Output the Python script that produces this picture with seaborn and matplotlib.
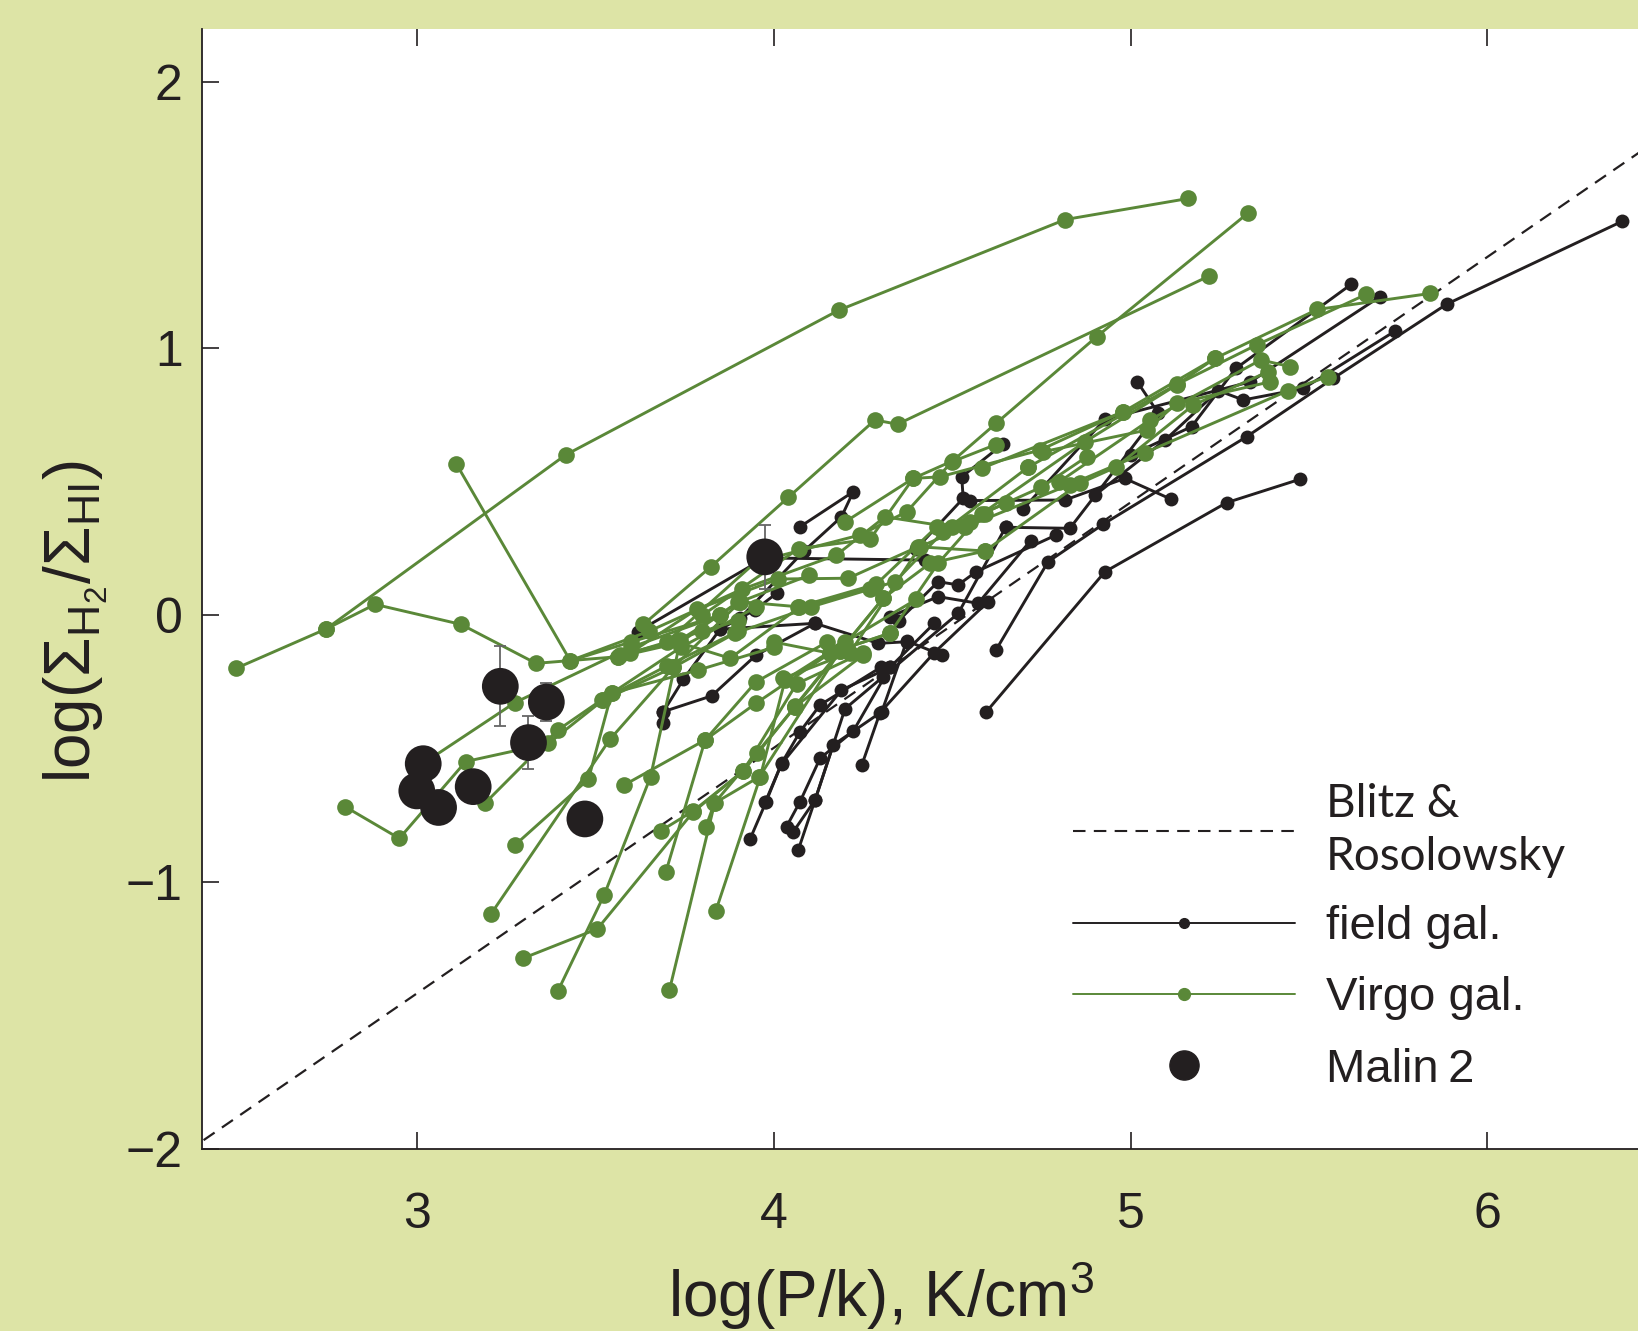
import pandas as pd
import matplotlib
matplotlib.use("Agg")
import matplotlib.pyplot as plt
from matplotlib.lines import Line2D
import seaborn as sns

# radial profiles, one list per galaxy: log(P/k) and log(Sigma_H2/Sigma_HI)
field_logp = [
    [3.619, 3.975, 4.425],
    [3.691, 3.691, 3.747, 3.850, 3.947, 4.008],
    [3.691, 3.826, 3.950, 4.116],
    [4.074, 4.223, 4.190, 4.085, 3.906],
    [3.934, 3.979, 4.022, 4.074, 4.130, 4.300],
    [4.036, 4.074, 4.130, 4.223, 4.326, 4.450],
    [4.055, 4.116, 4.167, 4.303, 4.373, 4.471],
    [4.069, 4.116, 4.200, 4.307, 4.517, 4.650],
    [4.247, 4.298, 4.450, 4.600],
    [4.623, 4.769, 4.924, 5.325, 5.568, 5.886, 6.377],
    [4.595, 4.928, 5.269, 5.475],
    [3.976, 4.022, 4.190, 4.326],
    [4.326, 4.461, 4.573, 4.720],
    [4.350, 4.461, 4.517, 4.567, 4.790],
    [4.400, 4.531, 4.527, 4.642],
    [4.650, 4.830, 5.078, 5.019],
    [4.550, 4.816, 4.984, 5.112],
    [4.900, 5.097, 5.246, 5.316, 5.484, 5.741],
    [5.000, 5.171, 5.295, 5.619],
    [4.700, 4.928, 5.336, 5.699],
    [3.850, 4.116, 4.293, 4.373],
]
field_ratio = [
    [-0.061, 0.215, 0.207],
    [-0.405, -0.361, -0.240, -0.052, 0.020, 0.082],
    [-0.361, -0.302, -0.150, -0.030],
    [0.332, 0.463, 0.369, 0.241, -0.011],
    [-0.838, -0.698, -0.555, -0.436, -0.336, -0.195],
    [-0.792, -0.698, -0.536, -0.434, -0.195, -0.030],
    [-0.811, -0.692, -0.486, -0.361, -0.096, -0.149],
    [-0.879, -0.692, -0.350, -0.230, 0.007, 0.330],
    [-0.561, -0.365, -0.140, 0.050],
    [-0.130, 0.201, 0.342, 0.669, 0.888, 1.166, 1.476],
    [-0.363, 0.163, 0.422, 0.510],
    [-0.701, -0.557, -0.280, -0.195],
    [-0.005, 0.070, 0.045, 0.280],
    [-0.020, 0.126, 0.114, 0.163, 0.300],
    [0.250, 0.438, 0.519, 0.641],
    [0.330, 0.326, 0.757, 0.875],
    [0.430, 0.432, 0.513, 0.436],
    [0.450, 0.657, 0.842, 0.807, 0.850, 1.065],
    [0.600, 0.707, 0.925, 1.241],
    [0.400, 0.734, 0.875, 1.194],
    [-0.052, -0.030, -0.105, -0.099],
]

virgo_logp = [
    [2.493, 2.746, 3.417, 4.182, 4.817, 5.162],
    [2.746, 2.883, 3.124, 3.334, 3.565, 3.800, 3.900],
    [3.111, 3.430, 3.600, 3.850],
    [3.018, 3.275, 3.600, 3.850],
    [2.799, 2.951, 3.137, 3.369, 3.546, 3.740, 3.950],
    [3.191, 3.395, 3.518, 3.700, 3.900],
    [3.208, 3.541, 3.719, 3.906, 4.100],
    [3.275, 3.481, 3.546, 3.789, 4.000],
    [3.298, 3.506, 3.775, 3.915, 4.060, 4.250],
    [3.396, 3.525, 3.655, 3.737, 3.900],
    [3.708, 3.835, 3.952, 4.060, 4.190],
    [3.838, 3.962, 4.032, 4.200, 4.400],
    [3.698, 3.808, 3.950, 4.150],
    [3.683, 3.775, 3.915, 4.064, 4.250],
    [3.581, 3.808, 3.950, 4.158, 4.326],
    [3.810, 3.834, 3.960, 4.186, 4.307],
    [3.635, 3.824, 4.041, 4.284, 4.347, 5.221],
    [4.200, 4.391, 4.502, 4.623, 4.905, 5.328],
    [3.597, 3.784, 4.013, 4.209, 4.405, 4.592],
    [3.569, 3.737, 3.906, 4.069, 4.288, 4.457, 4.592],
    [3.430, 3.650, 3.910, 4.176, 4.312, 4.500, 4.650],
    [3.523, 3.719, 3.892, 4.106, 4.340, 4.475, 4.713],
    [3.700, 3.950, 4.242, 4.373, 4.499, 4.623],
    [3.800, 4.070, 4.270, 4.391, 4.466, 4.746, 4.980],
    [4.000, 4.158, 4.326, 4.461, 4.583, 4.750, 4.877],
    [4.027, 4.214, 4.410, 4.536, 4.830, 5.040, 5.442, 5.552],
    [4.060, 4.186, 4.307, 4.438, 4.592, 4.858, 4.959, 5.176, 5.386],
    [4.583, 4.980, 5.237, 5.523, 5.839],
    [4.713, 5.131, 5.353, 5.661],
    [4.800, 5.054, 5.365, 5.447],
    [4.755, 5.045, 5.129, 5.391],
    [4.550, 4.872, 5.129, 5.236],
    [3.565, 3.737, 3.878, 4.072, 4.270],
]
virgo_ratio = [
    [-0.199, -0.051, 0.601, 1.143, 1.483, 1.562],
    [-0.051, 0.041, -0.034, -0.180, -0.155, -0.060, -0.020],
    [0.567, -0.170, -0.100, 0.000],
    [-0.555, -0.327, -0.120, 0.000],
    [-0.717, -0.836, -0.548, -0.480, -0.292, -0.120, 0.030],
    [-0.704, -0.430, -0.317, -0.190, -0.060],
    [-1.119, -0.465, -0.195, 0.051, 0.150],
    [-0.861, -0.614, -0.292, -0.205, -0.120],
    [-1.285, -1.175, -0.736, -0.583, -0.342, -0.150],
    [-1.406, -1.048, -0.605, -0.103, 0.050],
    [-1.404, -0.702, -0.517, -0.342, -0.130],
    [-1.107, -0.607, -0.242, -0.100, 0.060],
    [-0.961, -0.467, -0.250, -0.100],
    [-0.808, -0.733, -0.583, -0.257, -0.140],
    [-0.636, -0.467, -0.330, -0.142, -0.067],
    [-0.792, -0.704, -0.605, -0.133, 0.064],
    [-0.034, 0.182, 0.442, 0.732, 0.716, 1.272],
    [0.350, 0.513, 0.579, 0.719, 1.044, 1.506],
    [-0.142, 0.022, 0.136, 0.139, 0.257, 0.241],
    [-0.149, -0.093, 0.051, 0.032, 0.117, 0.332, 0.380],
    [-0.170, -0.060, 0.097, 0.226, 0.369, 0.330, 0.420],
    [-0.317, -0.195, -0.067, 0.032, 0.126, 0.313, 0.555],
    [-0.100, 0.200, 0.301, 0.388, 0.575, 0.640],
    [0.000, 0.250, 0.285, 0.513, 0.519, 0.619, 0.763],
    [-0.100, -0.142, -0.067, 0.195, 0.380, 0.480, 0.594],
    [-0.236, -0.140, 0.257, 0.330, 0.490, 0.609, 0.842, 0.894],
    [-0.340, -0.133, 0.064, 0.195, 0.241, 0.495, 0.555, 0.788, 0.913],
    [0.551, 0.763, 0.963, 1.146, 1.206],
    [0.555, 0.866, 1.013, 1.203],
    [0.500, 0.732, 0.957, 0.932],
    [0.613, 0.694, 0.794, 0.875],
    [0.350, 0.650, 0.863, 0.963],
    [-0.155, -0.103, -0.161, 0.030, 0.100],
]

malin_logp = [3.000, 3.018, 3.061, 3.158, 3.234, 3.313, 3.363, 3.471, 3.975]
malin_ratio = [-0.658, -0.556, -0.720, -0.642, -0.266, -0.477, -0.325, -0.763, 0.219]
malin_err = [0.0, 0.0, 0.0, 0.0, 0.15, 0.10, 0.07, 0.03, 0.12]

# Blitz & Rosolowsky relation, end points
br_logp = [2.3, 6.5]
br_ratio = [-2.061, 1.803]

BG = "#dde4a6"
GREEN = "#5a8838"
BLACK = "#231f20"


def to_frame(xs, ys, tag):
    rows = []
    for i, (gx, gy) in enumerate(zip(xs, ys)):
        for x, y in zip(gx, gy):
            rows.append((f"{tag}{i}", x, y))
    return pd.DataFrame(rows, columns=["gal", "logp", "ratio"])


field = to_frame(field_logp, field_ratio, "f")
virgo = to_frame(virgo_logp, virgo_ratio, "v")

sns.set_style("ticks")
plt.rcParams["font.family"] = ["Liberation Sans", "DejaVu Sans"]
plt.rcParams["mathtext.fontset"] = "custom"
plt.rcParams["mathtext.rm"] = "Liberation Sans"

fig = plt.figure(figsize=(16.38, 13.31), dpi=100, facecolor=BG)
ax = fig.add_axes([0.1233, 0.1367, 0.8767, 0.8415])
ax.set_facecolor("white")

ax.plot(br_logp, br_ratio, color=BLACK, lw=1.6, dashes=(6, 4), zorder=1)

sns.lineplot(data=field, x="logp", y="ratio", units="gal", estimator=None,
             sort=False, color=BLACK, lw=2.1, marker="o", markersize=10,
             mec=BLACK, mew=0, legend=False, ax=ax, zorder=2)
sns.lineplot(data=virgo, x="logp", y="ratio", units="gal", estimator=None,
             sort=False, color=GREEN, lw=2.1, marker="o", markersize=12,
             mec=GREEN, mew=0, legend=False, ax=ax, zorder=3)

ax.errorbar(malin_logp, malin_ratio, yerr=malin_err, fmt="none",
            ecolor="#666666", elinewidth=1.3, capsize=4, capthick=1.3, zorder=4)
sns.scatterplot(x=malin_logp, y=malin_ratio, s=700, color=BLACK,
                edgecolor="none", legend=False, ax=ax, zorder=5)

ax.set_xlim(2.398, 6.422)
ax.set_ylim(-2.0, 2.197)
ax.set_xticks([3, 4, 5, 6])
ax.set_yticks([-2, -1, 0, 1, 2])

sns.despine(ax=ax, top=True, right=True)
ax.spines["left"].set_linewidth(1.3)
ax.spines["bottom"].set_linewidth(1.3)
ax.spines["left"].set_color(BLACK)
ax.spines["bottom"].set_color(BLACK)
ax.tick_params(axis="both", direction="in", length=12, width=1.2,
               colors=BLACK, labelsize=36)
ax.tick_params(axis="x", top=True, pad=31)
ax.tick_params(axis="y", pad=14)

ax.set_xlabel(r"log(P/k), K/cm$\mathregular{^3}$", fontsize=46, color=BLACK)
ax.set_ylabel(r"log($\mathregular{\Sigma_{H_2}/\Sigma_{HI}}$)", fontsize=46,
              color=BLACK)
ax.xaxis.set_label_coords(0.4727, -0.098)
ax.yaxis.set_label_coords(-0.064, 0.471)

handles = [
    Line2D([], [], color=BLACK, lw=1.5, dashes=(6, 4)),
    Line2D([], [], color=BLACK, lw=1.4, marker="o", ms=7),
    Line2D([], [], color=GREEN, lw=1.4, marker="o", ms=8.5),
    Line2D([], [], ls="none", marker="o", ms=21, color=BLACK),
]
labels = ["Blitz &\nRosolowsky", "field gal.", "Virgo gal.", "Malin\u20092"]
leg = ax.legend(handles, labels, loc="lower left", bbox_to_anchor=(0.59, 0.03),
                frameon=False, fontsize=34, handlelength=4.7,
                handletextpad=0.66, labelspacing=0.58, borderpad=0)
leg.get_texts()[0].set_fontfamily(["Lato", "DejaVu Sans"])
leg.get_texts()[0].set_fontsize(33)
leg.get_texts()[0].set_linespacing(1.3)
for t in leg.get_texts():
    t.set_color(BLACK)

fig.savefig("out.png", dpi=100, facecolor=BG)
